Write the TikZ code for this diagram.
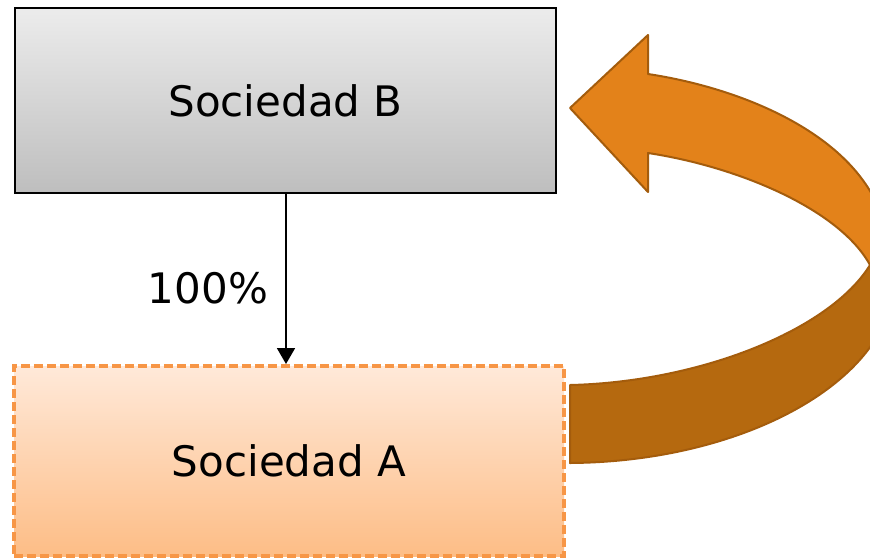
\documentclass[tikz,border=0pt]{standalone}
\usepackage{fontspec}
\setmainfont{DejaVu Sans}
\usetikzlibrary{arrows.meta}
\definecolor{boxgraytop}{HTML}{ECECEC}
\definecolor{boxgraybot}{HTML}{BEBEBE}
\definecolor{peachtop}{HTML}{FFE9D9}
\definecolor{peachbot}{HTML}{FDBD86}
\definecolor{peachline}{HTML}{F79646}
\definecolor{ribbonlight}{HTML}{E3821A}
\definecolor{ribbondark}{HTML}{B5690F}
\definecolor{ribbonedge}{HTML}{A45C0C}
\tikzset{
  bigtext/.style={font=\fontsize{42}{50}\selectfont, text=black},
  grayentity/.style={bigtext, draw=black, line width=2.2pt, top color=boxgraytop, bottom color=boxgraybot, minimum width=541pt, minimum height=185pt, inner sep=0pt},
  peachentity/.style={bigtext, draw=peachline, line width=4pt, dash pattern=on 9pt off 4pt, top color=peachtop, bottom color=peachbot, minimum width=550pt, minimum height=190pt, inner sep=0pt},
  ownership/.style={draw=black, line width=1.8pt, -{Triangle[length=16pt,width=18pt]}},
  ribbon/.style={draw=ribbonedge, line width=2pt, line join=round}
}
\begin{document}
\begin{tikzpicture}[x=1pt,y=-1pt]
\useasboundingbox (0,0) rectangle (870,558);
\fill[white] (0,0) rectangle (870,558);

% entities
\node[grayentity] (B) at (285.5,100.5) {Sociedad B};
\node[peachentity] (A) at (289,461) {Sociedad A};

% ownership link
\draw[ownership] (B.south -| 286,0) -- (A.north -| 286,0);
\node[bigtext] (pct) at (208,288) {100\%};

% curved return arrow, cut off at the right edge
\begin{scope}
  \clip (0,0) rectangle (870,558);
  % lower (back) band
  \filldraw[ribbon, fill=ribbondark]
    (570,385) .. controls (700,382) and (830,330) .. (870,265)
    -- (880,262) -- (880,335)
    -- (875,340) .. controls (830,410) and (710,462) .. (570,463) -- cycle;
  % upper band with arrow head
  \filldraw[ribbon, fill=ribbonlight]
    (870,265) .. controls (840,210) and (740,167) .. (648,153)
    -- (648,192) -- (570,108) -- (648,35) -- (648,74)
    .. controls (740,88) and (840,130) .. (875,200)
    -- (880,200) -- (880,262) -- cycle;
\end{scope}
\end{tikzpicture}
\end{document}
